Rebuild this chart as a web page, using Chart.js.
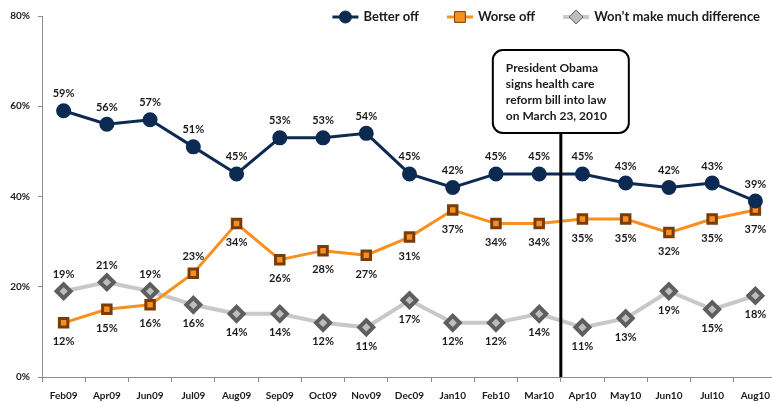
<!DOCTYPE html>
<html>
<head>
<meta charset="utf-8">
<script src="https://cdn.jsdelivr.net/npm/chart.js@4.4.1/dist/chart.umd.min.js"></script>
<style>
  html, body { margin: 0; padding: 0; background: #fff; overflow: hidden; }
  #wrap { width: 800px; height: 402px; position: relative; }
</style>
</head>
<body>
<div id="wrap"><canvas id="myChart"></canvas></div>
<script>
const months = ['Feb09', 'Apr09', 'Jun09', 'Jul09', 'Aug09', 'Sep09', 'Oct09', 'Nov09', 'Dec09',
  'Jan10', 'Feb10', 'Mar10', 'Apr10', 'May10', 'Jun10', 'Jul10', 'Aug10'];
const betterOff = [59, 56, 57, 51, 45, 53, 53, 54, 45, 42, 45, 45, 45, 43, 42, 43, 39];
const worseOff = [12, 15, 16, 23, 34, 26, 28, 27, 31, 37, 34, 34, 35, 35, 32, 35, 37];
const noDifference = [19, 21, 19, 16, 14, 14, 12, 11, 17, 12, 12, 14, 11, 13, 19, 15, 18];
const yTicks = [0, 20, 40, 60, 80];
const noteText = ['President Obama', 'signs health care', 'reform bill into law', 'on March 23, 2010'];
const noteAfter = 'Mar10';

const FONT = 'Lato, "Open Sans", sans-serif';

// value labels: above or below each point
const valueLabels = {
  id: 'valueLabels',
  afterDatasetsDraw(chart) {
    const ctx = chart.ctx;
    ctx.save();
    ctx.font = 'bold 11px ' + FONT;
    ctx.fillStyle = '#1a1a1a';
    ctx.textAlign = 'center';
    ctx.textBaseline = 'middle';
    chart.data.datasets.forEach((ds, i) => {
      const meta = chart.getDatasetMeta(i);
      meta.data.forEach((pt, j) => {
        let above = ds.labelSide === 'above';
        if ((ds.flipLabels || []).includes(j)) above = !above;
        const dy = above ? -17 : 19;
        ctx.fillText(ds.data[j] + '%', pt.x, pt.y + dy);
      });
    });
    ctx.restore();
  }
};

// legend with line + marker swatches, right aligned
const lineLegend = {
  id: 'lineLegend',
  afterDraw(chart) {
    const ctx = chart.ctx;
    ctx.save();
    ctx.font = 'bold 13px ' + FONT;
    ctx.textBaseline = 'middle';
    const y = 17;
    let x = 760;
    const items = chart.data.datasets.slice().reverse();
    items.forEach(ds => {
      const w = ctx.measureText(ds.label).width;
      ctx.fillStyle = '#1a1a1a';
      ctx.textAlign = 'left';
      ctx.fillText(ds.label, x - w, y);
      const lineEnd = x - w - 5;
      const lineStart = lineEnd - 26;
      ctx.strokeStyle = ds.borderColor;
      ctx.lineWidth = ds.borderWidth;
      ctx.beginPath();
      ctx.moveTo(lineStart, y);
      ctx.lineTo(lineEnd, y);
      ctx.stroke();
      const cx = (lineStart + lineEnd) / 2;
      ctx.fillStyle = ds.pointBackgroundColor;
      ctx.strokeStyle = ds.pointBorderColor;
      ctx.lineWidth = 1;
      ctx.beginPath();
      const r = ds.pointRadius;
      if (ds.pointStyle === 'circle') {
        ctx.arc(cx, y, r, 0, Math.PI * 2);
      } else if (ds.pointStyle === 'rect') {
        ctx.rect(cx - r * 0.9, y - r * 0.9, r * 1.8, r * 1.8);
      } else {
        ctx.moveTo(cx, y - r); ctx.lineTo(cx + r, y); ctx.lineTo(cx, y + r); ctx.lineTo(cx - r, y); ctx.closePath();
      }
      ctx.fill();
      ctx.stroke();
      x = lineStart - 28;
    });
    ctx.restore();
  }
};

// vertical marker line and callout box
const signingNote = {
  id: 'signingNote',
  afterDraw(chart) {
    const ctx = chart.ctx;
    const xs = chart.scales.x;
    const idx = months.indexOf(noteAfter);
    const lx = (xs.getPixelForValue(idx) + xs.getPixelForValue(idx + 1)) / 2;
    const area = chart.chartArea;
    const bw = 136, bh = 83, top = 50;
    const bx = lx - bw / 2;
    ctx.save();
    ctx.strokeStyle = '#000';
    ctx.lineWidth = 3;
    ctx.beginPath();
    ctx.moveTo(lx, top + bh);
    ctx.lineTo(lx, area.bottom);
    ctx.stroke();
    ctx.lineWidth = 2;
    ctx.fillStyle = '#fff';
    ctx.beginPath();
    ctx.roundRect(bx, top, bw, bh, 10);
    ctx.fill();
    ctx.stroke();
    ctx.font = 'bold 12px ' + FONT;
    ctx.fillStyle = '#1a1a1a';
    ctx.textAlign = 'left';
    ctx.textBaseline = 'middle';
    noteText.forEach((t, i) => ctx.fillText(t, bx + 13, top + 18 + i * 16));
    ctx.restore();
  }
};

const ctx = document.getElementById('myChart').getContext('2d');
const myChart = new Chart(ctx, {
  type: 'line',
  data: {
    labels: months,
    datasets: [
      {
        label: 'Better off',
        data: betterOff,
        borderColor: '#0c2a52',
        borderWidth: 3,
        pointStyle: 'circle',
        pointRadius: 6,
        pointBackgroundColor: '#0c2a52',
        pointBorderColor: '#0c2a52',
        labelSide: 'above',
        tension: 0
      },
      {
        label: 'Worse off',
        data: worseOff,
        borderColor: '#f7901e',
        borderWidth: 3,
        pointStyle: 'rect',
        pointRadius: 6,
        pointBackgroundColor: '#f7901e',
        pointBorderColor: '#7a3c08',
        labelSide: 'below',
        flipLabels: [3],
        tension: 0
      },
      {
        label: 'Won\u2019t make much difference',
        data: noDifference,
        borderColor: '#c8c8c8',
        borderWidth: 4,
        pointStyle: 'rectRot',
        pointRadius: 7,
        pointBackgroundColor: '#bdbdbd',
        pointBorderColor: '#5e5e5e',
        labelSide: 'below',
        flipLabels: [0, 1, 2],
        tension: 0
      }
    ]
  },
  options: {
    responsive: true,
    maintainAspectRatio: false,
    animation: false,
    layout: { padding: { top: 16, right: 23, left: 0, bottom: 0 } },
    plugins: {
      legend: { display: false },
      tooltip: { enabled: false }
    },
    scales: {
      x: {
        offset: true,
        grid: { display: true, drawOnChartArea: false, offset: true, color: '#8c8c8c', tickLength: 5 },
        border: { color: '#8c8c8c', width: 1 },
        ticks: { font: { family: FONT, size: 10, weight: 'bold' }, color: '#1a1a1a', maxRotation: 0, autoSkip: false, padding: 8 },
        afterFit(scale) { scale.height = 25; }
      },
      y: {
        min: 0,
        max: 80,
        afterBuildTicks(scale) { scale.ticks = yTicks.map(v => ({ value: v })); },
        grid: { display: true, drawOnChartArea: false, color: '#8c8c8c', tickLength: 4 },
        border: { color: '#8c8c8c', width: 1 },
        ticks: { font: { family: FONT, size: 10, weight: 'bold' }, color: '#1a1a1a', padding: 8, callback: v => v + '%' },
        afterFit(scale) { scale.width = 42; }
      }
    }
  },
  plugins: [valueLabels, lineLegend, signingNote]
});
</script>
</body>
</html>
